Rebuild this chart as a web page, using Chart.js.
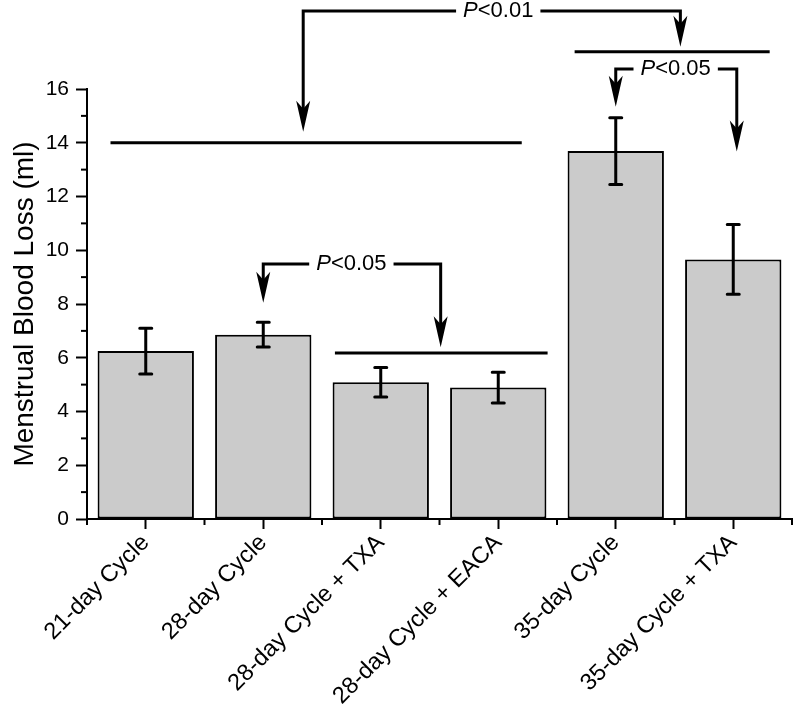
<!DOCTYPE html>
<html>
<head>
<meta charset="utf-8">
<script src="https://cdn.jsdelivr.net/npm/chart.js@4.4.0/dist/chart.umd.min.js"></script>
<style>
body{margin:0;background:#fff;}
</style>
</head>
<body>
<canvas id="myChart" width="793" height="707"></canvas>
<script>
let categories=["21-day Cycle","28-day Cycle","28-day Cycle + TXA","28-day Cycle + EACA","35-day Cycle","35-day Cycle + TXA"];
let meanLoss=[6.25,6.86,5.09,4.89,13.69,9.66];
let errLoss=[0.85,0.46,0.55,0.57,1.24,1.30];
let yMin=0;
let yMax=16;
let yStep=2;

// comparison brackets, in data units (x = category position, y = ml)
let pLabels=["<0.01","<0.05","<0.05"];
let bracketLevel=[18.9,16.74,9.49];
let leftArrowAt=[1.34,4.0,1.0];
let leftArrowTip=[14.41,15.34,8.05];
let rightArrowAt=[4.55,5.03,2.51];
let rightArrowTip=[17.57,13.67,6.39];
let labelAt=[3.0,4.51,1.75];
// group lines the arrows point to
let groupFrom=[-0.3,3.65,1.61];
let groupTo=[3.2,5.31,3.42];
let groupLevel=[14,17.39,6.18];

const FONT="'Liberation Sans', Arial, sans-serif";

function xAt(chart,f){
    let x=chart.scales.x;
    let a=x.getPixelForValue(0);
    let b=x.getPixelForValue(1);
    return a+f*(b-a);
}

function arrowDown(ctx,x,yTip){
    ctx.beginPath();
    ctx.moveTo(x,yTip);
    ctx.lineTo(x-7,yTip-31);
    ctx.lineTo(x,yTip-23);
    ctx.lineTo(x+7,yTip-31);
    ctx.closePath();
    ctx.fill();
}

let extras={
    id:"extras",
    afterDraw(chart){
        let ctx=chart.ctx;
        let x=chart.scales.x;
        let y=chart.scales.y;
        ctx.save();
        ctx.strokeStyle="#000";
        ctx.fillStyle="#000";

        // minor ticks
        ctx.lineWidth=2;
        for(let v=yMin+1;v<yMax;v+=yStep){
            let py=y.getPixelForValue(v);
            ctx.beginPath();
            ctx.moveTo(y.right-6,py);
            ctx.lineTo(y.right,py);
            ctx.stroke();
        }
        for(let i=0;i<=categories.length;i++){
            let px=xAt(chart,i-0.5);
            ctx.beginPath();
            ctx.moveTo(px,x.top);
            ctx.lineTo(px,x.top+6);
            ctx.stroke();
        }

        // error bars
        let meta=chart.getDatasetMeta(0);
        ctx.lineWidth=3;
        ctx.lineCap="round";
        meta.data.forEach(function(bar,i){
            let top=y.getPixelForValue(meanLoss[i]+errLoss[i]);
            let bot=y.getPixelForValue(meanLoss[i]-errLoss[i]);
            ctx.beginPath();
            ctx.moveTo(bar.x,top);
            ctx.lineTo(bar.x,bot);
            ctx.moveTo(bar.x-6,top);
            ctx.lineTo(bar.x+6,top);
            ctx.moveTo(bar.x-6,bot);
            ctx.lineTo(bar.x+6,bot);
            ctx.stroke();
        });

        // group lines
        ctx.lineCap="butt";
        ctx.lineWidth=3;
        for(let i=0;i<groupLevel.length;i++){
            let py=y.getPixelForValue(groupLevel[i]);
            ctx.beginPath();
            ctx.moveTo(xAt(chart,groupFrom[i]),py);
            ctx.lineTo(xAt(chart,groupTo[i]),py);
            ctx.stroke();
        }

        // brackets with P labels
        ctx.textBaseline="middle";
        for(let i=0;i<pLabels.length;i++){
            let py=y.getPixelForValue(bracketLevel[i]);
            let lx=xAt(chart,leftArrowAt[i]);
            let rx=xAt(chart,rightArrowAt[i]);
            let cx=xAt(chart,labelAt[i]);
            ctx.font="italic 22px "+FONT;
            let wP=ctx.measureText("P").width;
            ctx.font="22px "+FONT;
            let wR=ctx.measureText(pLabels[i]).width;
            let start=cx-(wP+wR)/2;
            let end=start+wP+wR;
            ctx.font="italic 22px "+FONT;
            ctx.fillText("P",start,py);
            ctx.font="22px "+FONT;
            ctx.fillText(pLabels[i],start+wP,py);

            let lt=y.getPixelForValue(leftArrowTip[i]);
            let rt=y.getPixelForValue(rightArrowTip[i]);
            ctx.lineWidth=3;
            ctx.beginPath();
            ctx.moveTo(start-7,py);
            ctx.lineTo(lx,py);
            ctx.lineTo(lx,lt-15);
            ctx.moveTo(end+7,py);
            ctx.lineTo(rx,py);
            ctx.lineTo(rx,rt-15);
            ctx.stroke();
            arrowDown(ctx,lx,lt);
            arrowDown(ctx,rx,rt);
        }
        ctx.restore();
    }
};

let yTicks=[];
for(let v=yMin;v<=yMax;v+=yStep){ yTicks.push(v); }

new Chart("myChart",{
    type:"bar",
    data:{
        labels:categories,
        datasets:[{
            data:meanLoss,
            backgroundColor:"#cbcbcb",
            borderColor:"#000",
            borderWidth:2,
            borderSkipped:false,
            barPercentage:0.82,
            categoryPercentage:1
        }]
    },
    options:{
        responsive:false,
        animation:false,
        layout:{padding:{top:89,right:1,left:0,bottom:0}},
        plugins:{legend:{display:false},tooltip:{enabled:false}},
        scales:{
            x:{
                grid:{drawOnChartArea:false,offset:false,tickLength:10,tickColor:"#000",tickWidth:2},
                border:{color:"#000",width:2},
                ticks:{color:"#000",font:{family:FONT,size:23.5},minRotation:45,maxRotation:45,padding:0},
                afterFit(scale){scale.height=188;}
            },
            y:{
                min:yMin,max:yMax,
                afterBuildTicks(scale){scale.ticks=yTicks.map(v=>({value:v}));},
                grid:{drawOnChartArea:false,tickLength:11,tickColor:"#000",tickWidth:2},
                border:{color:"#000",width:2},
                ticks:{color:"#000",font:{family:FONT,size:21},padding:7},
                title:{display:true,text:"Menstrual Blood Loss (ml)",color:"#000",font:{family:FONT,size:28},padding:{top:8,bottom:0}},
                afterFit(scale){scale.width=87;}
            }
        }
    },
    plugins:[extras]
});
</script>
</body>
</html>
